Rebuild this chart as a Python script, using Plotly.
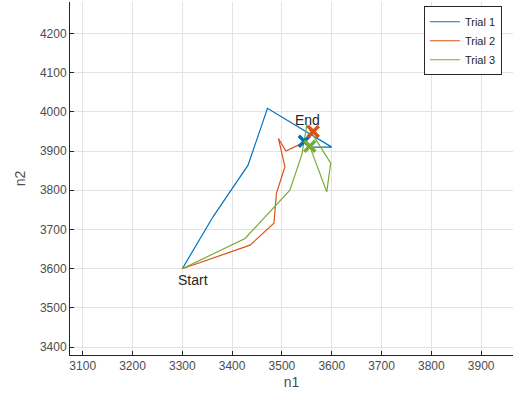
import plotly.graph_objects as go

trial1_n1 = [3300, 3362, 3432, 3471, 3600, 3560, 3545]
trial1_n2 = [3600, 3733, 3864, 4009, 3910, 3910, 3925]
trial2_n1 = [3300, 3436, 3484, 3489, 3506, 3493, 3508, 3536, 3555, 3563]
trial2_n2 = [3600, 3660, 3716, 3792, 3860, 3932, 3900, 3917, 3935, 3950]
trial3_n1 = [3300, 3426, 3516, 3540, 3550, 3598, 3590, 3556]
trial3_n2 = [3600, 3677, 3800, 3891, 3966, 3869, 3796, 3912]

names = ["Trial 1", "Trial 2", "Trial 3"]
colors = ["#0072BD", "#D95319", "#77AC30"]
x_ticks = [3100, 3200, 3300, 3400, 3500, 3600, 3700, 3800, 3900]
y_ticks = [3400, 3500, 3600, 3700, 3800, 3900, 4000, 4100, 4200]

series = [(trial1_n1, trial1_n2), (trial2_n1, trial2_n2), (trial3_n1, trial3_n2)]

fig = go.Figure()
for (xs, ys), nm, c in zip(series, names, colors):
    fig.add_trace(go.Scatter(x=xs, y=ys, mode="lines", name=nm,
                             line=dict(color=c, width=1.2)))
for (xs, ys), nm, c in zip(series, names, colors):
    fig.add_trace(go.Scatter(x=[xs[-1]], y=[ys[-1]], mode="markers", showlegend=False,
                             marker=dict(symbol="x-thin-open", size=11, color=c,
                                         line=dict(color=c, width=3.5))))

fig.add_annotation(x=3287, y=3571, text="Start", showarrow=False, xanchor="left",
                   yanchor="middle", font=dict(size=14, color="#262626"))
fig.add_annotation(x=3522, y=3979, text="End", showarrow=False, xanchor="left",
                   yanchor="middle", font=dict(size=14, color="#262626"))

axis_common = dict(showgrid=True, gridcolor="#e3e3e3", gridwidth=1,
                   showline=True, linecolor="#262626", linewidth=1,
                   ticks="inside", ticklen=4, tickcolor="#262626",
                   tickfont=dict(size=12, color="#4d4d4d"), zeroline=False)

fig.update_layout(
    width=513, height=400,
    margin=dict(l=70, r=0, t=2, b=45),
    paper_bgcolor="white", plot_bgcolor="white",
    font=dict(family="Liberation Sans, Arial, sans-serif", color="#262626"),
    xaxis=dict(range=[3074.5, 3964], tickvals=x_ticks,
               title=dict(text="n1", font=dict(size=14, color="#4d4d4d"), standoff=4),
               **axis_common),
    yaxis=dict(range=[3380, 4280], tickvals=y_ticks,
               title=dict(text="n2", font=dict(size=14, color="#4d4d4d"), standoff=10),
               **axis_common),
    legend=dict(x=0.975, y=0.988, xanchor="right", yanchor="top",
                bgcolor="white", bordercolor="#262626", borderwidth=1,
                font=dict(size=11, color="#262626"), tracegroupgap=0,
                itemwidth=30),
    showlegend=True,
)

fig.write_html("out.html")
